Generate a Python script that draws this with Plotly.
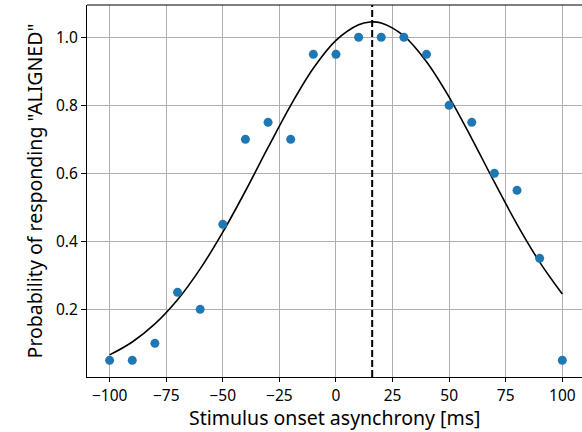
import plotly.graph_objects as go

# Observed proportions
soa_ms = [-100, -90, -80, -70, -60, -50, -40, -30, -20, -10, 0, 10, 20, 30, 40, 50, 60, 70, 80, 90, 100]
p_aligned = [0.05, 0.05, 0.10, 0.25, 0.20, 0.45, 0.70, 0.75, 0.70, 0.95, 0.95, 1.00, 1.00, 1.00, 0.95, 0.80, 0.75, 0.60, 0.55, 0.35, 0.05]

# Fitted curve
curve_x = [-100, -90, -80, -70, -60, -50, -40, -30, -20, -10, 0, 10, 15, 20, 30, 40, 50, 60, 70, 80, 90, 100]
curve_y = [0.066, 0.104, 0.157, 0.228, 0.319, 0.427, 0.548, 0.676, 0.800, 0.909, 0.991, 1.037, 1.045, 1.042, 1.004, 0.928, 0.824, 0.702, 0.574, 0.450, 0.339, 0.245]

# Peak location (dashed line)
peak_ms = 16

x_tickvals = [-100, -75, -50, -25, 0, 25, 50, 75, 100]
x_ticktext = ["\u2212100", "\u221275", "\u221250", "\u221225", "0", "25", "50", "75", "100"]
y_tickvals = [0.2, 0.4, 0.6, 0.8, 1.0]
y_ticktext = ["0.2", "0.4", "0.6", "0.8", "1.0"]

x_title = "Stimulus onset asynchrony [ms]"
y_title = 'Probability of responding "ALIGNED"'

FONT = "Noto Sans"
TICK_FS = 15.5
TITLE_FS = 19.5

fig = go.Figure()
fig.add_trace(go.Scatter(
    x=curve_x, y=curve_y, mode="lines",
    line=dict(color="black", width=1.6, shape="spline", smoothing=1.0),
    showlegend=False, hoverinfo="skip"))
fig.add_trace(go.Scatter(
    x=soa_ms, y=p_aligned, mode="markers",
    marker=dict(color="#1f77b4", size=9, line=dict(width=0)),
    showlegend=False))
fig.add_vline(x=peak_ms, line=dict(color="black", width=2, dash="7px,3px"))

fig.update_layout(
    width=582, height=432,
    margin=dict(l=87, r=0, t=5, b=55),
    paper_bgcolor="white", plot_bgcolor="white",
    font=dict(family=FONT, size=TICK_FS, color="black"),
)
fig.update_xaxes(
    range=[-110, 108.7], automargin=False,
    tickvals=x_tickvals, ticktext=x_ticktext,
    showgrid=True, gridcolor="#b0b0b0", gridwidth=1,
    zeroline=False,
    showline=True, linecolor="black", linewidth=1.2, mirror=False,
    ticks="outside", ticklen=4, tickcolor="black",
    tickfont=dict(size=TICK_FS),
)
fig.update_yaxes(
    range=[0.001, 1.095], automargin=False,
    tickvals=y_tickvals, ticktext=y_ticktext,
    showgrid=True, gridcolor="#b0b0b0", gridwidth=1,
    zeroline=False,
    showline=True, linecolor="black", linewidth=1.2, mirror=False,
    ticks="outside", ticklen=5, tickcolor="black",
    title=dict(text=y_title, font=dict(size=TITLE_FS), standoff=8),
    tickfont=dict(size=TICK_FS),
)
# x-axis title as annotation for precise placement
fig.add_annotation(text=x_title, xref="paper", yref="paper", x=0.5, y=0,
                   yshift=-55, xanchor="center", yanchor="bottom",
                   showarrow=False, font=dict(size=TITLE_FS), borderpad=0)
# top spine
fig.add_shape(type="line", xref="paper", yref="paper", x0=0, x1=1, y0=1, y1=1,
              line=dict(color="black", width=1.2))

fig.write_html("out.html", config={"displayModeBar": False},
               post_script="document.body.style.margin='0';")
